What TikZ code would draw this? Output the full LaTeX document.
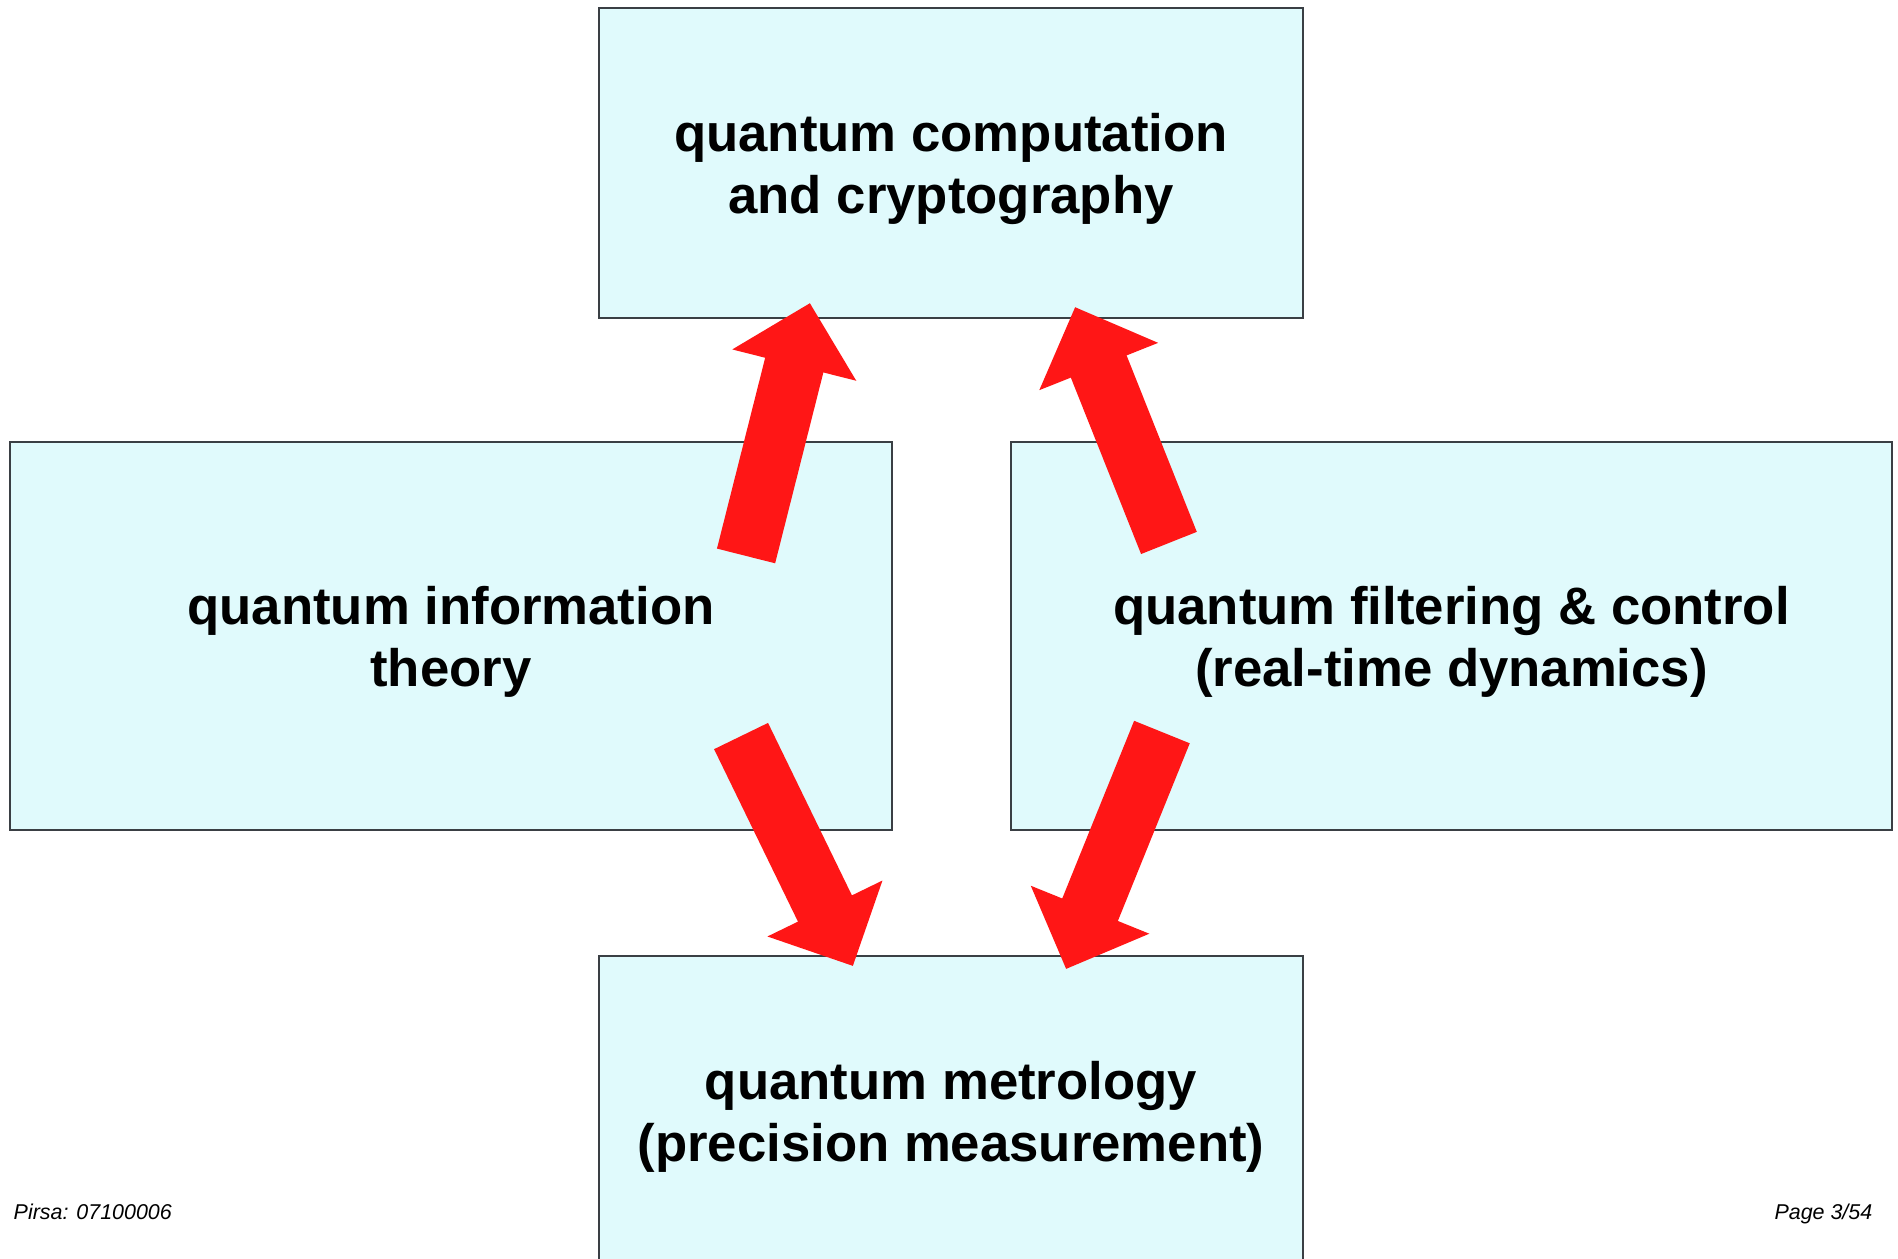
\documentclass[tikz,border=0pt]{standalone}
\usepackage{fontspec}
\setmainfont{Liberation Sans}
\usepackage{tikz}
\usetikzlibrary{arrows.meta, positioning, calc}
\definecolor{boxfill}{HTML}{E0FAFC}
\definecolor{boxline}{HTML}{3A3F44}
\definecolor{arrowred}{HTML}{FF1616}
\newcommand{\topgap}{\rule{0pt}{14.3pt}}

\begin{document}
\begin{tikzpicture}[
  node distance=0.5cm,
  box/.style={draw=boxline, line width=0.6pt, fill=boxfill, align=center, inner sep=0pt,
    font=\fontsize{15}{17.6}\selectfont\bfseries},
  bigarr/.style={draw=arrowred, line width=0.6cm, -{Triangle[length=0.64cm, width=1.24cm, fill=arrowred]}},
  footer/.style={font=\fontsize{6.1}{7}\selectfont\itshape, inner sep=0pt},
]
\clip (0,0) rectangle (18.98,-12.59);
\fill[white] (0,0) rectangle (18.98,-12.59);

\node[box, minimum width=7.04cm, minimum height=3.10cm] (compute) at (9.51,-1.63)
  {\topgap quantum computation\\and cryptography};
\node[box, minimum width=8.82cm, minimum height=3.88cm] (info) at (4.51,-6.36)
  {\topgap quantum information\\theory};
\node[box, minimum width=8.81cm, minimum height=3.88cm] (filter) at (14.515,-6.36)
  {\topgap quantum filtering \& control\\(real-time dynamics)};
\node[box, minimum width=7.04cm, minimum height=3.10cm, below=6.36cm of compute] (metro)
  {\topgap quantum metrology\\(precision measurement)};

\node[footer, anchor=base west] (pirsa) at (0.13,-12.20) {Pirsa: 07100006};
\node[footer, anchor=base east] (page) at (18.73,-12.20) {Page 3/54};

% arrows between the fields
\coordinate (infoUp) at ($(info.north east)+(-1.47,-1.15)$);
\coordinate (computeL) at ($(compute.south west)+(2.12,0.16)$);
\coordinate (filterUp) at ($(filter.north west)+(1.59,-1.02)$);
\coordinate (computeR) at ($(compute.south east)+(-2.29,0.12)$);
\coordinate (infoDown) at ($(info.south east)+(-1.52,0.95)$);
\coordinate (metroL) at ($(metro.north west)+(2.55,-0.11)$);
\coordinate (filterDown) at ($(filter.south west)+(1.52,0.99)$);
\coordinate (metroR) at ($(metro.north east)+(-2.38,-0.14)$);

\draw[bigarr] (infoUp) -- (computeL);
\draw[bigarr] (filterUp) -- (computeR);
\draw[bigarr] (infoDown) -- (metroL);
\draw[bigarr] (filterDown) -- (metroR);

\end{tikzpicture}
\end{document}
